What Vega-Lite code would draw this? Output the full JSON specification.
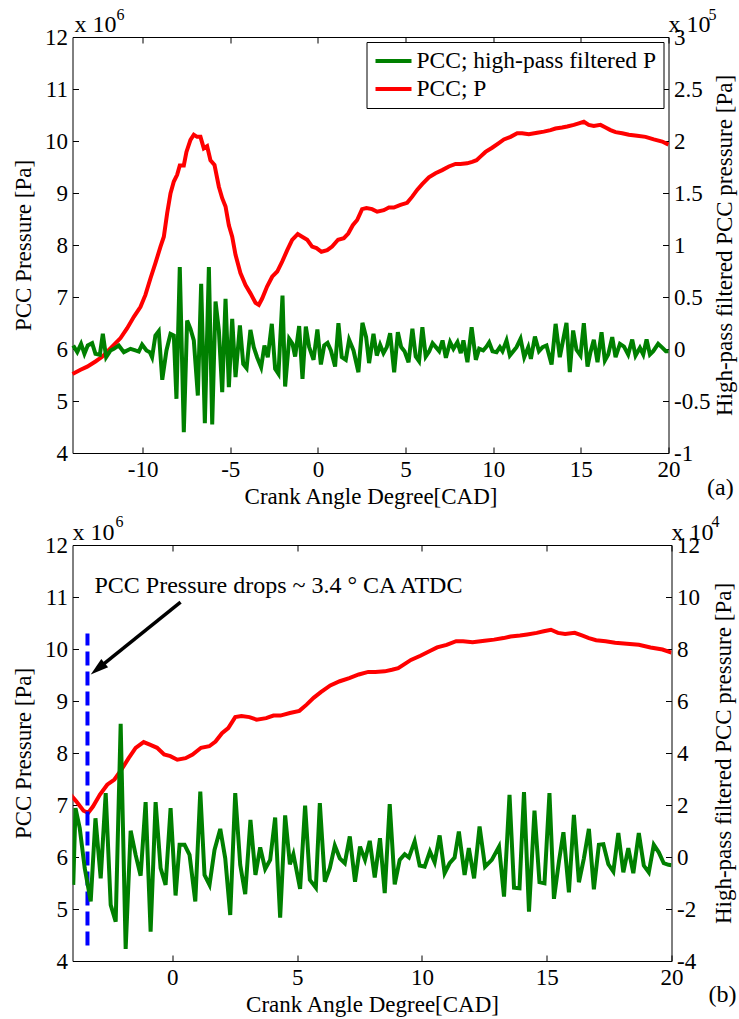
{
  "$schema": "https://vega.github.io/schema/vega-lite/v6.json",
  "background": "white",
  "padding": {"left": 12.5, "top": 6, "right": 2, "bottom": 2},
  "spacing": 6,
  "config": {
    "font": "Liberation Serif",
    "view": {"stroke": null},
    "axis": {
      "grid": false,
      "domainColor": "black",
      "domainWidth": 1,
      "tickColor": "black",
      "tickWidth": 1,
      "tickSize": -6,
      "labelPadding": 11,
      "labelFont": "Liberation Serif",
      "labelFontSize": 23,
      "labelColor": "black",
      "labelFlush": false,
      "labelOverlap": false,
      "labelExpr": "replace(datum.label, '−', '-')",
      "format": "~g",
      "titleFont": "Liberation Serif",
      "titleFontSize": 23,
      "titleFontWeight": "normal",
      "titleColor": "black",
      "titlePadding": 6
    },
    "axisBottom": {"titlePadding": 4},
    "text": {"font": "Liberation Serif", "color": "black"}
  },
  "resolve": {"scale": {"color": "independent"}, "legend": {"color": "independent"}},
  "datasets": {
    "press": [
      {"cad": -14.0, "p": 5.52}, {"cad": -13.54, "p": 5.6}, {"cad": -13.16, "p": 5.66}, {"cad": -12.69, "p": 5.76},
      {"cad": -12.31, "p": 5.85}, {"cad": -12.02, "p": 5.95}, {"cad": -11.64, "p": 6.08}, {"cad": -11.26, "p": 6.21},
      {"cad": -10.88, "p": 6.4}, {"cad": -10.5, "p": 6.62}, {"cad": -10.12, "p": 6.81}, {"cad": -9.84, "p": 7.04},
      {"cad": -9.55, "p": 7.36}, {"cad": -9.27, "p": 7.65}, {"cad": -8.98, "p": 7.97}, {"cad": -8.79, "p": 8.16},
      {"cad": -8.6, "p": 8.61}, {"cad": -8.41, "p": 8.99}, {"cad": -8.22, "p": 9.22}, {"cad": -8.03, "p": 9.35},
      {"cad": -7.88, "p": 9.53}, {"cad": -7.65, "p": 9.53}, {"cad": -7.5, "p": 9.79}, {"cad": -7.27, "p": 10.02},
      {"cad": -7.08, "p": 10.12}, {"cad": -6.89, "p": 10.08}, {"cad": -6.7, "p": 10.08}, {"cad": -6.51, "p": 9.86},
      {"cad": -6.32, "p": 9.9}, {"cad": -6.13, "p": 9.63}, {"cad": -5.9, "p": 9.54}, {"cad": -5.65, "p": 9.12},
      {"cad": -5.46, "p": 8.9}, {"cad": -5.27, "p": 8.74}, {"cad": -5.08, "p": 8.38}, {"cad": -4.89, "p": 8.16},
      {"cad": -4.7, "p": 7.81}, {"cad": -4.42, "p": 7.46}, {"cad": -4.13, "p": 7.23}, {"cad": -3.85, "p": 7.07},
      {"cad": -3.56, "p": 6.89}, {"cad": -3.37, "p": 6.85}, {"cad": -3.18, "p": 6.97}, {"cad": -2.9, "p": 7.2},
      {"cad": -2.61, "p": 7.39}, {"cad": -2.32, "p": 7.49}, {"cad": -2.04, "p": 7.68}, {"cad": -1.75, "p": 7.9},
      {"cad": -1.47, "p": 8.1}, {"cad": -1.15, "p": 8.21}, {"cad": -0.9, "p": 8.16}, {"cad": -0.61, "p": 8.1},
      {"cad": -0.33, "p": 7.97}, {"cad": -0.08, "p": 7.94}, {"cad": 0.2, "p": 7.87}, {"cad": 0.53, "p": 7.9},
      {"cad": 0.81, "p": 7.97}, {"cad": 1.15, "p": 8.1}, {"cad": 1.48, "p": 8.13}, {"cad": 1.73, "p": 8.22},
      {"cad": 1.99, "p": 8.38}, {"cad": 2.24, "p": 8.48}, {"cad": 2.52, "p": 8.69}, {"cad": 2.77, "p": 8.71},
      {"cad": 3.09, "p": 8.69}, {"cad": 3.38, "p": 8.64}, {"cad": 3.76, "p": 8.67}, {"cad": 4.05, "p": 8.72},
      {"cad": 4.33, "p": 8.72}, {"cad": 4.71, "p": 8.77}, {"cad": 5.09, "p": 8.81}, {"cad": 5.38, "p": 8.93},
      {"cad": 5.66, "p": 9.06}, {"cad": 5.95, "p": 9.17}, {"cad": 6.33, "p": 9.3}, {"cad": 6.71, "p": 9.38},
      {"cad": 7.09, "p": 9.44}, {"cad": 7.47, "p": 9.51}, {"cad": 7.85, "p": 9.56}, {"cad": 8.13, "p": 9.56},
      {"cad": 8.51, "p": 9.57}, {"cad": 8.8, "p": 9.6}, {"cad": 9.05, "p": 9.63}, {"cad": 9.27, "p": 9.7},
      {"cad": 9.56, "p": 9.79}, {"cad": 9.94, "p": 9.87}, {"cad": 10.32, "p": 9.96}, {"cad": 10.61, "p": 10.03},
      {"cad": 10.99, "p": 10.08}, {"cad": 11.37, "p": 10.15}, {"cad": 11.65, "p": 10.15}, {"cad": 12.03, "p": 10.13},
      {"cad": 12.51, "p": 10.16}, {"cad": 12.89, "p": 10.18}, {"cad": 13.27, "p": 10.21}, {"cad": 13.55, "p": 10.24},
      {"cad": 13.93, "p": 10.26}, {"cad": 14.22, "p": 10.28}, {"cad": 14.6, "p": 10.31}, {"cad": 14.88, "p": 10.34},
      {"cad": 15.17, "p": 10.37}, {"cad": 15.45, "p": 10.31}, {"cad": 15.74, "p": 10.29}, {"cad": 16.12, "p": 10.31},
      {"cad": 16.41, "p": 10.26}, {"cad": 16.69, "p": 10.21}, {"cad": 16.98, "p": 10.17}, {"cad": 17.36, "p": 10.15},
      {"cad": 17.74, "p": 10.12}, {"cad": 18.21, "p": 10.1}, {"cad": 18.69, "p": 10.08}, {"cad": 19.16, "p": 10.03},
      {"cad": 19.64, "p": 9.99}, {"cad": 20.0, "p": 9.93}
    ],
    "hpA": [
      {"cad": -13.96, "hp": 0.034}, {"cad": -13.73, "hp": -0.03}, {"cad": -13.51, "hp": 0.05}, {"cad": -13.32, "hp": -0.046},
      {"cad": -13.13, "hp": 0.034}, {"cad": -12.88, "hp": 0.056}, {"cad": -12.69, "hp": -0.046}, {"cad": -12.44, "hp": -0.056},
      {"cad": -12.27, "hp": 0.146}, {"cad": -12.08, "hp": -0.079}, {"cad": -11.83, "hp": -0.014}, {"cad": -11.64, "hp": 0.002},
      {"cad": -11.36, "hp": 0.034}, {"cad": -11.07, "hp": -0.03}, {"cad": -10.69, "hp": 0.002}, {"cad": -10.41, "hp": -0.014},
      {"cad": -10.22, "hp": -0.024}, {"cad": -10.03, "hp": 0.043}, {"cad": -9.78, "hp": -0.014}, {"cad": -9.59, "hp": -0.03},
      {"cad": -9.46, "hp": -0.079}, {"cad": -9.27, "hp": 0.13}, {"cad": -9.08, "hp": 0.172}, {"cad": -8.88, "hp": -0.296},
      {"cad": -8.64, "hp": -0.014}, {"cad": -8.41, "hp": 0.146}, {"cad": -8.22, "hp": 0.13}, {"cad": -8.07, "hp": -0.479},
      {"cad": -7.88, "hp": 0.787}, {"cad": -7.65, "hp": -0.8}, {"cad": -7.46, "hp": 0.274}, {"cad": -7.27, "hp": 0.194},
      {"cad": -7.08, "hp": 0.082}, {"cad": -6.85, "hp": -0.447}, {"cad": -6.66, "hp": 0.627}, {"cad": -6.45, "hp": -0.713},
      {"cad": -6.22, "hp": 0.787}, {"cad": -6.03, "hp": -0.726}, {"cad": -5.84, "hp": 0.457}, {"cad": -5.65, "hp": 0.178},
      {"cad": -5.46, "hp": -0.415}, {"cad": -5.27, "hp": 0.482}, {"cad": -5.08, "hp": -0.367}, {"cad": -4.89, "hp": 0.29},
      {"cad": -4.7, "hp": -0.271}, {"cad": -4.45, "hp": 0.226}, {"cad": -4.26, "hp": -0.143}, {"cad": -4.07, "hp": -0.184},
      {"cad": -3.85, "hp": 0.184}, {"cad": -3.66, "hp": 0.018}, {"cad": -3.47, "hp": -0.079}, {"cad": -3.24, "hp": -0.175},
      {"cad": -3.05, "hp": 0.034}, {"cad": -2.86, "hp": -0.079}, {"cad": -2.63, "hp": 0.242}, {"cad": -2.44, "hp": -0.191},
      {"cad": -2.25, "hp": -0.239}, {"cad": -2.02, "hp": 0.514}, {"cad": -1.87, "hp": -0.361}, {"cad": -1.64, "hp": 0.098},
      {"cad": -1.45, "hp": 0.05}, {"cad": -1.3, "hp": -0.072}, {"cad": -1.07, "hp": 0.22}, {"cad": -0.88, "hp": -0.287},
      {"cad": -0.69, "hp": 0.216}, {"cad": -0.5, "hp": 0.018}, {"cad": -0.25, "hp": -0.104}, {"cad": -0.03, "hp": 0.188},
      {"cad": 0.17, "hp": -0.149}, {"cad": 0.36, "hp": 0.034}, {"cad": 0.55, "hp": 0.059}, {"cad": 0.74, "hp": -0.014},
      {"cad": 0.98, "hp": -0.168}, {"cad": 1.17, "hp": 0.248}, {"cad": 1.36, "hp": -0.079}, {"cad": 1.59, "hp": -0.104},
      {"cad": 1.78, "hp": 0.088}, {"cad": 2.03, "hp": -0.014}, {"cad": 2.31, "hp": -0.223}, {"cad": 2.54, "hp": 0.252},
      {"cad": 2.75, "hp": 0.114}, {"cad": 2.92, "hp": -0.136}, {"cad": 3.17, "hp": 0.146}, {"cad": 3.36, "hp": -0.063},
      {"cad": 3.55, "hp": 0.04}, {"cad": 3.74, "hp": -0.04}, {"cad": 3.93, "hp": 0.018}, {"cad": 4.12, "hp": 0.152},
      {"cad": 4.35, "hp": -0.223}, {"cad": 4.56, "hp": 0.162}, {"cad": 4.75, "hp": 0.018}, {"cad": 4.94, "hp": -0.021},
      {"cad": 5.17, "hp": -0.127}, {"cad": 5.39, "hp": 0.194}, {"cad": 5.58, "hp": -0.072}, {"cad": 5.77, "hp": -0.117},
      {"cad": 5.96, "hp": 0.21}, {"cad": 6.15, "hp": -0.072}, {"cad": 6.35, "hp": -0.021}, {"cad": 6.54, "hp": 0.056},
      {"cad": 6.73, "hp": 0.018}, {"cad": 6.92, "hp": -0.021}, {"cad": 7.11, "hp": 0.082}, {"cad": 7.3, "hp": -0.085},
      {"cad": 7.54, "hp": 0.066}, {"cad": 7.73, "hp": 0.002}, {"cad": 7.96, "hp": 0.066}, {"cad": 8.15, "hp": -0.04},
      {"cad": 8.3, "hp": 0.082}, {"cad": 8.53, "hp": -0.127}, {"cad": 8.77, "hp": 0.21}, {"cad": 9.01, "hp": -0.104},
      {"cad": 9.2, "hp": 0.002}, {"cad": 9.43, "hp": -0.014}, {"cad": 9.62, "hp": 0.024}, {"cad": 9.77, "hp": 0.063},
      {"cad": 9.96, "hp": -0.021}, {"cad": 10.19, "hp": -0.03}, {"cad": 10.38, "hp": 0.018}, {"cad": 10.53, "hp": -0.021},
      {"cad": 10.76, "hp": 0.082}, {"cad": 10.95, "hp": -0.063}, {"cad": 11.18, "hp": -0.014}, {"cad": 11.33, "hp": 0.018},
      {"cad": 11.56, "hp": 0.098}, {"cad": 11.77, "hp": -0.079}, {"cad": 12.0, "hp": 0.018}, {"cad": 12.15, "hp": -0.095},
      {"cad": 12.38, "hp": 0.12}, {"cad": 12.61, "hp": -0.021}, {"cad": 12.82, "hp": 0.018}, {"cad": 13.04, "hp": 0.034},
      {"cad": 13.33, "hp": -0.149}, {"cad": 13.56, "hp": 0.242}, {"cad": 13.8, "hp": -0.079}, {"cad": 13.99, "hp": 0.088},
      {"cad": 14.18, "hp": 0.252}, {"cad": 14.37, "hp": -0.223}, {"cad": 14.56, "hp": 0.178}, {"cad": 14.75, "hp": -0.008},
      {"cad": 14.98, "hp": -0.063}, {"cad": 15.17, "hp": 0.248}, {"cad": 15.38, "hp": -0.168}, {"cad": 15.55, "hp": -0.03},
      {"cad": 15.74, "hp": 0.088}, {"cad": 15.95, "hp": -0.127}, {"cad": 16.18, "hp": 0.162}, {"cad": 16.37, "hp": -0.111},
      {"cad": 16.56, "hp": -0.053}, {"cad": 16.79, "hp": 0.114}, {"cad": 16.98, "hp": -0.079}, {"cad": 17.23, "hp": 0.05},
      {"cad": 17.46, "hp": 0.024}, {"cad": 17.7, "hp": -0.053}, {"cad": 17.93, "hp": 0.091}, {"cad": 18.12, "hp": -0.063},
      {"cad": 18.37, "hp": 0.011}, {"cad": 18.56, "hp": -0.053}, {"cad": 18.75, "hp": 0.091}, {"cad": 18.94, "hp": -0.053},
      {"cad": 19.13, "hp": -0.021}, {"cad": 19.41, "hp": 0.05}, {"cad": 19.66, "hp": 0.011}, {"cad": 19.85, "hp": -0.021},
      {"cad": 20.0, "hp": -0.021}
    ],
    "hpB": [
      {"cad": -3.97, "hp": -1.07}, {"cad": -3.88, "hp": 1.88}, {"cad": -3.71, "hp": 1.11}, {"cad": -3.51, "hp": -0.43},
      {"cad": -3.27, "hp": -1.71}, {"cad": -3.08, "hp": 1.49}, {"cad": -2.87, "hp": -0.82}, {"cad": -2.67, "hp": 2.46},
      {"cad": -2.47, "hp": -1.84}, {"cad": -2.27, "hp": -2.49}, {"cad": -2.07, "hp": 5.12}, {"cad": -1.87, "hp": -3.54},
      {"cad": -1.67, "hp": 1.01}, {"cad": -1.47, "hp": 0.08}, {"cad": -1.27, "hp": -0.72}, {"cad": -1.07, "hp": 2.11},
      {"cad": -0.87, "hp": -2.87}, {"cad": -0.67, "hp": 2.11}, {"cad": -0.47, "hp": -0.43}, {"cad": -0.27, "hp": -1.07},
      {"cad": -0.07, "hp": 1.88}, {"cad": 0.13, "hp": -1.48}, {"cad": 0.29, "hp": 0.47}, {"cad": 0.49, "hp": 0.47},
      {"cad": 0.69, "hp": 0.08}, {"cad": 0.92, "hp": -1.71}, {"cad": 1.12, "hp": 2.52}, {"cad": 1.29, "hp": -0.69},
      {"cad": 1.49, "hp": -1.07}, {"cad": 1.69, "hp": 0.27}, {"cad": 1.92, "hp": 1.08}, {"cad": 2.12, "hp": -0.05},
      {"cad": 2.32, "hp": -2.23}, {"cad": 2.52, "hp": 2.46}, {"cad": 2.72, "hp": -0.3}, {"cad": 2.92, "hp": -1.43},
      {"cad": 3.13, "hp": 1.43}, {"cad": 3.33, "hp": -0.69}, {"cad": 3.52, "hp": 0.37}, {"cad": 3.72, "hp": -0.46},
      {"cad": 3.92, "hp": -0.11}, {"cad": 4.12, "hp": 1.52}, {"cad": 4.32, "hp": -2.33}, {"cad": 4.52, "hp": 1.6},
      {"cad": 4.71, "hp": -0.28}, {"cad": 4.85, "hp": 0.11}, {"cad": 5.12, "hp": -1.23}, {"cad": 5.32, "hp": 1.98},
      {"cad": 5.51, "hp": -0.88}, {"cad": 5.75, "hp": -1.18}, {"cad": 5.91, "hp": 2.07}, {"cad": 6.11, "hp": -0.95},
      {"cad": 6.31, "hp": -0.43}, {"cad": 6.51, "hp": 0.44}, {"cad": 6.71, "hp": -0.05}, {"cad": 6.91, "hp": -0.24},
      {"cad": 7.11, "hp": 0.79}, {"cad": 7.32, "hp": -0.95}, {"cad": 7.52, "hp": 0.4}, {"cad": 7.72, "hp": -0.11},
      {"cad": 7.91, "hp": 0.62}, {"cad": 8.11, "hp": -0.79}, {"cad": 8.32, "hp": 0.72}, {"cad": 8.51, "hp": -1.39},
      {"cad": 8.71, "hp": 2.03}, {"cad": 8.91, "hp": -1.05}, {"cad": 9.11, "hp": -0.11}, {"cad": 9.31, "hp": 0.11},
      {"cad": 9.48, "hp": -0.02}, {"cad": 9.71, "hp": 0.6}, {"cad": 9.91, "hp": -0.33}, {"cad": 10.11, "hp": -0.37},
      {"cad": 10.32, "hp": 0.21}, {"cad": 10.51, "hp": -0.2}, {"cad": 10.71, "hp": 0.83}, {"cad": 10.91, "hp": -0.62},
      {"cad": 11.11, "hp": -0.24}, {"cad": 11.31, "hp": -0.02}, {"cad": 11.48, "hp": 0.98}, {"cad": 11.71, "hp": -0.69},
      {"cad": 11.88, "hp": 0.34}, {"cad": 12.09, "hp": -0.82}, {"cad": 12.31, "hp": 1.17}, {"cad": 12.53, "hp": -0.37},
      {"cad": 12.8, "hp": -0.11}, {"cad": 13.09, "hp": 0.4}, {"cad": 13.29, "hp": -1.52}, {"cad": 13.51, "hp": 2.39},
      {"cad": 13.69, "hp": -1.18}, {"cad": 13.91, "hp": -1.2}, {"cad": 14.09, "hp": 2.5}, {"cad": 14.29, "hp": -2.1},
      {"cad": 14.51, "hp": 1.78}, {"cad": 14.71, "hp": -0.97}, {"cad": 14.91, "hp": -1.01}, {"cad": 15.11, "hp": 2.46},
      {"cad": 15.29, "hp": -1.61}, {"cad": 15.49, "hp": -0.17}, {"cad": 15.67, "hp": 0.95}, {"cad": 15.89, "hp": -1.36},
      {"cad": 16.09, "hp": 1.62}, {"cad": 16.29, "hp": -0.97}, {"cad": 16.49, "hp": -0.05}, {"cad": 16.69, "hp": 1.08},
      {"cad": 16.89, "hp": -1.24}, {"cad": 17.09, "hp": 0.47}, {"cad": 17.27, "hp": 0.49}, {"cad": 17.47, "hp": -0.28},
      {"cad": 17.67, "hp": -0.56}, {"cad": 17.87, "hp": 0.92}, {"cad": 18.07, "hp": -0.59}, {"cad": 18.27, "hp": 0.34},
      {"cad": 18.47, "hp": -0.62}, {"cad": 18.69, "hp": 0.92}, {"cad": 18.89, "hp": -0.33}, {"cad": 19.09, "hp": -0.59},
      {"cad": 19.29, "hp": 0.47}, {"cad": 19.49, "hp": 0.18}, {"cad": 19.69, "hp": -0.24}, {"cad": 19.88, "hp": -0.3},
      {"cad": 20.0, "hp": -0.32}
    ],
    "notesA": [
      {"cad": -13.89, "p": 12.1, "t": "x 10", "kind": "base"},
      {"cad": -11.49, "p": 12.33, "t": "6", "kind": "exp"},
      {"cad": 20.0, "p": 12.1, "t": "x 10", "kind": "base"},
      {"cad": 22.28, "p": 12.33, "t": "5", "kind": "exp"},
      {"cad": 22.2, "p": 3.19, "t": "(a)", "kind": "base"}
    ],
    "notesB": [
      {"cad": -4.0, "p": 12.1, "t": "x 10", "kind": "base"},
      {"cad": -2.28, "p": 12.34, "t": "6", "kind": "exp"},
      {"cad": 20.0, "p": 12.1, "t": "x 10", "kind": "base"},
      {"cad": 21.6, "p": 12.34, "t": "4", "kind": "exp"},
      {"cad": 21.48, "p": 3.22, "t": "(b)", "kind": "base"},
      {"cad": -3.12, "p": 11.07, "t": "PCC Pressure drops ~ 3.4 ° CA ATDC", "kind": "base"}
    ]
  },
  "vconcat": [
    {
      "width": 596,
      "height": 416,
      "resolve": {"scale": {"x": "independent", "y": "independent"}},
      "layer": [
        {
          "layer": [
            {
              "data": {"name": "press"},
              "mark": {"type": "line", "strokeWidth": 4},
              "encoding": {
                "x": {"field": "cad", "type": "quantitative", "scale": {"domain": [-14, 20], "nice": false, "zero": false},
                      "axis": {"orient": "bottom", "values": [-10, -5, 0, 5, 10, 15, 20], "title": "Crank Angle Degree[CAD]"}},
                "y": {"field": "p", "type": "quantitative", "scale": {"domain": [4, 12], "nice": false, "zero": false},
                      "axis": {"orient": "left", "values": [4, 5, 6, 7, 8, 9, 10, 11, 12], "title": "PCC Pressure [Pa]", "titlePadding": 9}},
                "color": {"datum": "PCC; P", "type": "nominal",
                          "scale": {"domain": ["PCC; high-pass filtered P", "PCC; P"], "range": ["#008000", "#ff0000"]},
                          "legend": {"orient": "top-right", "offset": 5, "title": null,
                                     "symbolType": "M-1,0L2.6,0", "symbolSize": 400, "symbolStrokeWidth": 4,
                                     "labelFont": "Liberation Serif", "labelFontSize": 23.5, "labelColor": "black",
                                     "labelLimit": 500, "labelOffset": 19, "strokeColor": "black", "fillColor": "white",
                                     "padding": 7, "rowPadding": 4}}
              }
            },
            {
              "data": {"name": "notesA"},
              "transform": [{"filter": "datum.kind === 'base'"}],
              "mark": {"type": "text", "fontSize": 24, "align": "left", "baseline": "alphabetic"},
              "encoding": {
                "x": {"field": "cad", "type": "quantitative", "scale": {"domain": [-14, 20], "nice": false, "zero": false}},
                "y": {"field": "p", "type": "quantitative", "scale": {"domain": [4, 12], "nice": false, "zero": false}},
                "text": {"field": "t"}
              }
            },
            {
              "data": {"name": "notesA"},
              "transform": [{"filter": "datum.kind === 'exp'"}],
              "mark": {"type": "text", "fontSize": 16, "align": "left", "baseline": "alphabetic"},
              "encoding": {
                "x": {"field": "cad", "type": "quantitative", "scale": {"domain": [-14, 20], "nice": false, "zero": false}},
                "y": {"field": "p", "type": "quantitative", "scale": {"domain": [4, 12], "nice": false, "zero": false}},
                "text": {"field": "t"}
              }
            }
          ]
        },
        {
          "data": {"name": "hpA"},
          "mark": {"type": "line", "strokeWidth": 4},
          "encoding": {
            "x": {"field": "cad", "type": "quantitative", "scale": {"domain": [-14, 20], "nice": false, "zero": false},
                  "axis": {"orient": "top", "values": [-10, -5, 0, 5, 10, 15, 20], "labels": false, "title": null}},
            "y": {"field": "hp", "type": "quantitative", "scale": {"domain": [-1, 3], "nice": false, "zero": false},
                  "axis": {"orient": "right", "values": [-1, -0.5, 0, 0.5, 1, 1.5, 2, 2.5, 3], "labelAlign": "left",
                           "title": "High-pass filtered PCC pressure [Pa]", "titleAngle": 270, "titleBaseline": "top", "titlePadding": 4}},
            "color": {"datum": "PCC; high-pass filtered P", "type": "nominal",
                      "scale": {"domain": ["PCC; high-pass filtered P", "PCC; P"], "range": ["#008000", "#ff0000"]}}
          }
        }
      ]
    },
    {
      "width": 599,
      "height": 416,
      "resolve": {"scale": {"x": "independent", "y": "independent"}},
      "layer": [
        {
          "layer": [
            {
              "data": {"name": "press"},
              "mark": {"type": "line", "strokeWidth": 4, "color": "#ff0000", "clip": true},
              "encoding": {
                "x": {"field": "cad", "type": "quantitative", "scale": {"domain": [-4, 20], "nice": false, "zero": false},
                      "axis": {"orient": "bottom", "values": [0, 5, 10, 15, 20], "title": "Crank Angle Degree[CAD]"}},
                "y": {"field": "p", "type": "quantitative", "scale": {"domain": [4, 12], "nice": false, "zero": false},
                      "axis": {"orient": "left", "values": [4, 5, 6, 7, 8, 9, 10, 11, 12], "title": "PCC Pressure [Pa]", "titlePadding": 9}}
              }
            },
            {
              "data": {"values": [{"cad": -3.4, "p": 4.3, "p2": 10.3}]},
              "mark": {"type": "rule", "color": "#0000ff", "strokeWidth": 4, "strokeDash": [14, 6]},
              "encoding": {
                "x": {"field": "cad", "type": "quantitative", "scale": {"domain": [-4, 20], "nice": false, "zero": false}},
                "y": {"field": "p", "type": "quantitative", "scale": {"domain": [4, 12], "nice": false, "zero": false}},
                "y2": {"field": "p2"}
              }
            },
            {
              "data": {"values": [{"cad": 0.33, "p": 10.9, "cad2": -3.02, "p2": 9.61}]},
              "mark": {"type": "rule", "color": "black", "strokeWidth": 3.5},
              "encoding": {
                "x": {"field": "cad", "type": "quantitative", "scale": {"domain": [-4, 20], "nice": false, "zero": false}},
                "y": {"field": "p", "type": "quantitative", "scale": {"domain": [4, 12], "nice": false, "zero": false}},
                "x2": {"field": "cad2"},
                "y2": {"field": "p2"}
              }
            },
            {
              "data": {"values": [{"cad": -3.27, "p": 9.51}]},
              "mark": {"type": "point", "shape": "M0,0L0.45,1.5L-0.45,1.5Z", "size": 576, "angle": 231,
                       "filled": true, "color": "black", "opacity": 1, "strokeWidth": 0},
              "encoding": {
                "x": {"field": "cad", "type": "quantitative", "scale": {"domain": [-4, 20], "nice": false, "zero": false}},
                "y": {"field": "p", "type": "quantitative", "scale": {"domain": [4, 12], "nice": false, "zero": false}}
              }
            },
            {
              "data": {"name": "notesB"},
              "transform": [{"filter": "datum.kind === 'base'"}],
              "mark": {"type": "text", "fontSize": 24, "align": "left", "baseline": "alphabetic"},
              "encoding": {
                "x": {"field": "cad", "type": "quantitative", "scale": {"domain": [-4, 20], "nice": false, "zero": false}},
                "y": {"field": "p", "type": "quantitative", "scale": {"domain": [4, 12], "nice": false, "zero": false}},
                "text": {"field": "t"}
              }
            },
            {
              "data": {"name": "notesB"},
              "transform": [{"filter": "datum.kind === 'exp'"}],
              "mark": {"type": "text", "fontSize": 16, "align": "left", "baseline": "alphabetic"},
              "encoding": {
                "x": {"field": "cad", "type": "quantitative", "scale": {"domain": [-4, 20], "nice": false, "zero": false}},
                "y": {"field": "p", "type": "quantitative", "scale": {"domain": [4, 12], "nice": false, "zero": false}},
                "text": {"field": "t"}
              }
            }
          ]
        },
        {
          "data": {"name": "hpB"},
          "mark": {"type": "line", "strokeWidth": 4, "color": "#008000", "clip": true},
          "encoding": {
            "x": {"field": "cad", "type": "quantitative", "scale": {"domain": [-4, 20], "nice": false, "zero": false},
                  "axis": {"orient": "top", "values": [0, 5, 10, 15, 20], "labels": false, "title": null}},
            "y": {"field": "hp", "type": "quantitative", "scale": {"domain": [-4, 12], "nice": false, "zero": false},
                  "axis": {"orient": "right", "values": [-4, -2, 0, 2, 4, 6, 8, 10, 12], "labelAlign": "left",
                           "title": "High-pass filtered PCC pressure [Pa]", "titleAngle": 270, "titleBaseline": "top", "titlePadding": 13}}
          }
        }
      ]
    }
  ]
}
